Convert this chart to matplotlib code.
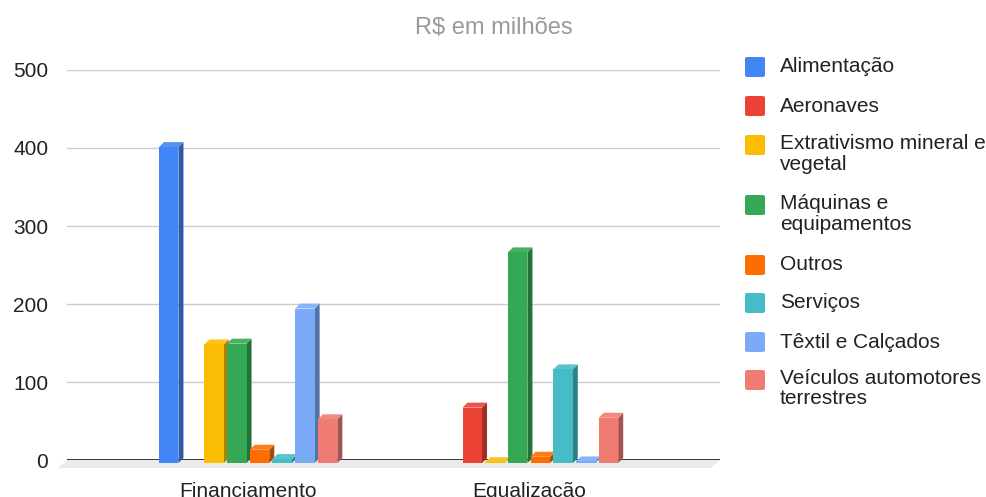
import matplotlib
matplotlib.use("Agg")
import matplotlib.pyplot as plt
from matplotlib.patches import Polygon, FancyBboxPatch
import matplotlib.colors as mcolors
import numpy as np

plt.rcParams['font.family'] = ['Liberation Sans', 'DejaVu Sans']

categories = ["Financiamento", "Equalização"]
series_names = ["Alimentação", "Aeronaves", "Extrativismo mineral e\nvegetal",
                "Máquinas e\nequipamentos", "Outros", "Serviços",
                "Têxtil e Calçados", "Veículos automotores\nterrestres"]
colors = ["#4285F4", "#EA4335", "#FBBC04", "#34A853", "#FF6D01", "#46BDC6",
          "#7BAAF7", "#F07B72"]
values_financiamento = [405, 0, 152, 153, 17, 5, 198, 56]
values_equalizacao = [0, 71, 1, 270, 8, 120, 2, 58]
yticks = [0, 100, 200, 300, 400, 500]
title = "R$ em milhões"

W, H = 987, 497
fig = plt.figure(figsize=(W / 100, H / 100), dpi=100)
ax_l, ax_r, ax_b, ax_t = 67, 720, 460, 70
ax = fig.add_axes([ax_l / W, (H - ax_b) / H, (ax_r - ax_l) / W, (ax_b - ax_t) / H])
xlim = (-0.645, 1.68)
ylim = (0, 500)
ax.set_xlim(*xlim)
ax.set_ylim(*ylim)

pxx = (ax_r - ax_l) / (xlim[1] - xlim[0])   # px per x unit
pxy = (ax_b - ax_t) / (ylim[1] - ylim[0])   # px per y unit

for sp in ax.spines.values():
    sp.set_visible(False)
ax.set_yticks(yticks)
ax.set_yticklabels([str(v) for v in yticks], fontsize=15, color="#222222")
ax.tick_params(axis='y', length=0, pad=13.5)
ax.set_xticks([])
ax.grid(axis='y', color="#cccccc", linewidth=1.0)
ax.set_axisbelow(True)

# floor
fl_dx, fl_dy = 9 / pxx, 8 / pxy
floor = Polygon([(xlim[0], 0), (xlim[1], 0), (xlim[1] - fl_dx, -fl_dy), (xlim[0] - fl_dx, -fl_dy)],
                closed=True, facecolor="#ebebeb", edgecolor="none", clip_on=False, zorder=1)
ax.add_patch(floor)
ax.axhline(0, color="#333333", linewidth=1.4, zorder=2)

slot = 22.7 / pxx
bw = 19.5 / pxx
shift = 3 / pxy
dx, dy = 5 / pxx, 5 / pxy

all_vals = [values_financiamento, values_equalizacao]
for ci, vals in enumerate(all_vals):
    for si, v in enumerate(vals):
        if v <= 0:
            continue
        xc = ci + (si - 3.5) * slot
        base = mcolors.to_rgb(colors[si])
        bars = ax.bar(xc, v, width=bw, bottom=-shift, color=colors[si], zorder=4,
                      clip_on=False, linewidth=0)
        rect = bars[0]
        x0 = rect.get_x()
        x1 = x0 + rect.get_width()
        yb = rect.get_y()
        yt = yb + rect.get_height()
        side_c = tuple(c * 0.68 for c in base)
        top_c = tuple(min(1, c * 0.9 + 0.1) for c in base)
        side = Polygon([(x1, yb), (x1, yt), (x1 + dx, yt + dy), (x1 + dx, yb + dy)],
                       closed=True, facecolor=side_c, edgecolor="none", zorder=3, clip_on=False)
        top = Polygon([(x0, yt), (x1, yt), (x1 + dx, yt + dy), (x0 + dx, yt + dy)],
                      closed=True, facecolor=top_c, edgecolor="none", zorder=3, clip_on=False)
        ax.add_patch(side)
        ax.add_patch(top)

for ci, cat in enumerate(categories):
    ax.text(ci, -40, cat, ha='center', va='center', fontsize=15, color="#222222",
            transform=ax.transData, clip_on=False)

fig.text(494 / W, 1 - 28 / H, title, ha='center', va='center', fontsize=17, color="#999999")

# legend
leg_y = [67, 106, 155, 215, 265, 303, 342, 390]
for si, name in enumerate(series_names):
    nlines = name.count("\n") + 1
    yc = leg_y[si] - (nlines - 1) * 10
    sq = FancyBboxPatch(((745) / W, 1 - (yc + 10) / H), 20 / W, 20 / H,
                        boxstyle="round,pad=0,rounding_size=0.003",
                        transform=fig.transFigure, facecolor=colors[si], edgecolor="none")
    fig.add_artist(sq)
    if nlines > 1:
        fig.text(780 / W, 1 - (yc - 11) / H, name, ha='left', va='top',
                 fontsize=15, color="#222222", linespacing=1.1)
    else:
        fig.text(780 / W, 1 - yc / H, name, ha='left', va='center',
                 fontsize=15, color="#222222")

fig.savefig("out.png", dpi=100)
